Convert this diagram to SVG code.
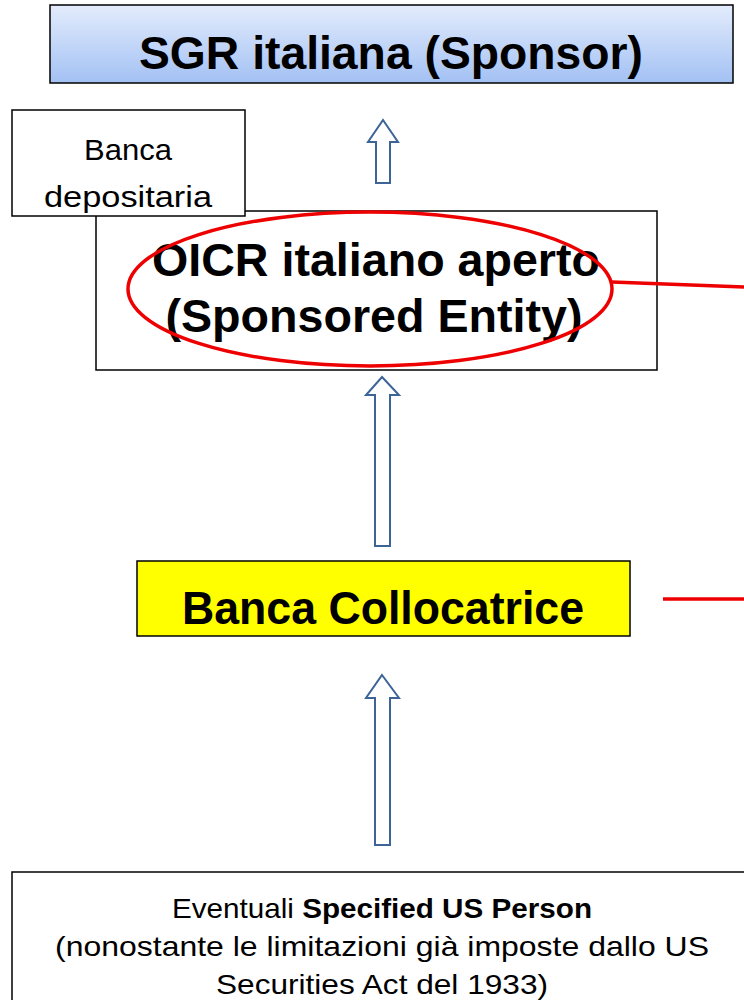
<svg xmlns="http://www.w3.org/2000/svg" width="744" height="1000" viewBox="0 0 744 1000">
<defs>
<linearGradient id="blueGrad" x1="0" y1="0" x2="0" y2="1">
<stop offset="0" stop-color="#e3ecfc"/>
<stop offset="1" stop-color="#a3c1f4"/>
</linearGradient>
<style>
.box{stroke:#000;stroke-width:1.5}
.big{font-family:"Liberation Sans",Arial,sans-serif;font-weight:bold;font-size:46px;fill:#000;text-anchor:middle}
.small{font-family:"Liberation Sans",Arial,sans-serif;font-size:29px;fill:#000;text-anchor:middle}
.note{font-family:"Liberation Sans",Arial,sans-serif;font-size:28px;fill:#000;text-anchor:middle}
.arrow{fill:#fff;stroke:#3c6496;stroke-width:2}
.red{stroke:#ee0000;stroke-width:3.5;fill:none}
</style>
</defs>
<rect width="744" height="1000" fill="#fff"/>
<g id="sgr">
<rect class="box" x="50" y="5" width="683" height="78" fill="url(#blueGrad)" stroke-width="2"/>
<text class="big" x="391" y="69" textLength="504" lengthAdjust="spacingAndGlyphs">SGR italiana (Sponsor)</text>
</g>
<g id="oicr">
<rect class="box" x="96" y="211" width="561" height="159" fill="#fff"/>
<text class="big" x="376" y="276" textLength="448" lengthAdjust="spacingAndGlyphs">OICR italiano aperto</text>
<text class="big" x="374" y="332" textLength="417" lengthAdjust="spacingAndGlyphs">(Sponsored Entity)</text>
</g>
<g id="banca-depositaria">
<rect class="box" x="12" y="110" width="233" height="106" fill="#fff"/>
<text class="small" x="128" y="160" textLength="88" lengthAdjust="spacingAndGlyphs">Banca</text>
<text class="small" x="128" y="207" textLength="168" lengthAdjust="spacingAndGlyphs">depositaria</text>
</g>
<g id="collocatrice">
<rect class="box" x="137" y="561" width="493" height="75" fill="#ffff00" stroke-width="2"/>
<text class="big" x="383" y="624" textLength="402" lengthAdjust="spacingAndGlyphs">Banca Collocatrice</text>
</g>
<g id="us-person">
<rect class="box" x="12" y="872" width="740" height="140" fill="#fff"/>
<text class="note" x="382" y="918" textLength="420" lengthAdjust="spacingAndGlyphs">Eventuali <tspan font-weight="bold">Specified US Person</tspan></text>
<text class="note" x="382" y="956" textLength="654" lengthAdjust="spacingAndGlyphs">(nonostante le limitazioni già imposte dallo US</text>
<text class="note" x="382" y="994" textLength="332" lengthAdjust="spacingAndGlyphs">Securities Act del 1933)</text>
</g>
<g id="connectors">
<polygon class="arrow" points="383,120 398,142 390,142 390,183 376,183 376,142 368,142"/>
<polygon class="arrow" points="382,377 399,395 390,395 390,546 375,546 375,395 366,395"/>
<polygon class="arrow" points="382,675 399,698 390,698 390,845 375,845 375,698 366,698"/>
<ellipse class="red" cx="370" cy="289" rx="242" ry="77" stroke-width="2.5"/>
<line class="red" x1="612" y1="282" x2="744" y2="287"/>
<line class="red" x1="663" y1="599" x2="744" y2="599"/>
</g>
</svg>
